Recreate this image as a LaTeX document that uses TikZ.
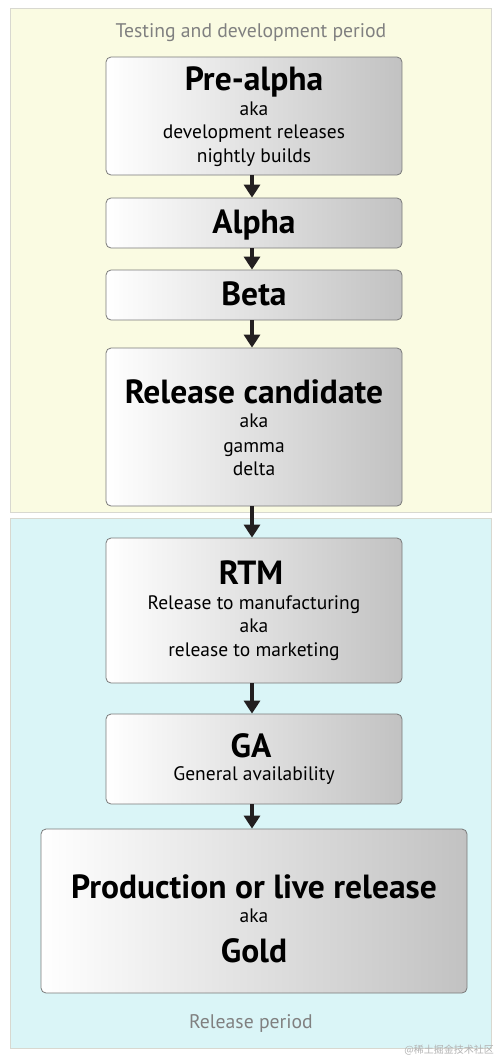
\documentclass[tikz,border=0pt]{standalone}
\usepackage{fontspec}
\setmainfont{PT Sans}
\newfontfamily\cjkfont{Noto Sans CJK SC}
\usetikzlibrary{arrows.meta}
\definecolor{panelY}{HTML}{FAFBE2}
\definecolor{panelC}{HTML}{DAF5F7}
\definecolor{panelB}{HTML}{D8D8D0}
\definecolor{boxB}{HTML}{7A7A7A}
\definecolor{capG}{HTML}{808080}
\definecolor{arrowK}{HTML}{231F20}
\tikzset{
  panel/.style={draw=panelB, line width=0.8pt},
  stage/.style={draw=boxB, line width=0.8pt, rounded corners=5pt, left color=white, middle color=black!7, right color=black!24, inner sep=0pt},
  heading/.style={anchor=base, font=\bfseries\fontsize{33.5}{33.5}\selectfont, inner sep=0pt},
  sub/.style={anchor=base, font=\fontsize{19.5}{19.5}\selectfont, inner sep=0pt},
  caption/.style={anchor=base, font=\fontsize{19.7}{19.7}\selectfont, text=capG, inner sep=0pt},
  flow/.style={arrowK, line width=4pt, -{Triangle[width=16pt,length=13pt]}, shorten >=0pt}
}
\begin{document}
\begin{tikzpicture}[x=1pt,y=-1pt]
\useasboundingbox (0,0) rectangle (500,1058);
\fill[white] (0,0) rectangle (500,1058);
% panels
\draw[panel, fill=panelY] (10,8) rectangle (491,512);
\draw[panel, fill=panelC] (10,518) rectangle (491,1048);
\node[caption] (captop) at (251,37) {Testing and development period};
\node[caption] (capbot) at (251,1028) {Release period};
% boxes
\node[stage, minimum width=296pt, minimum height=118pt] (pre) at (254,116) {};
\node[stage, minimum width=296pt, minimum height=50pt] (alpha) at (254,223) {};
\node[stage, minimum width=296pt, minimum height=50pt] (beta) at (254,295) {};
\node[stage, minimum width=296pt, minimum height=158pt] (rc) at (254,427) {};
\node[stage, minimum width=296pt, minimum height=145pt] (rtm) at (254,610.5) {};
\node[stage, minimum width=296pt, minimum height=90pt] (ga) at (254,759) {};
\node[stage, minimum width=426pt, minimum height=164pt] (prod) at (254,911) {};
% texts
\node[heading] (t1) at (254,90) {Pre-alpha};
\node[sub] (t1a) at (254,115) {aka};
\node[sub] (t1b) at (254,138) {development releases};
\node[sub] (t1c) at (254,162) {nightly builds};
\node[heading] (t2) at (254,233) {Alpha};
\node[heading] (t3) at (254,305) {Beta};
\node[heading] (t4) at (254,403) {Release candidate};
\node[sub] (t4a) at (254,427) {aka};
\node[sub] (t4b) at (254,452) {gamma};
\node[sub] (t4c) at (254,475) {delta};
\node[heading] (t5) at (251,584) {RTM};
\node[sub] (t5a) at (254,609) {Release to manufacturing};
\node[sub] (t5b) at (254,632) {aka};
\node[sub] (t5c) at (254,656) {release to marketing};
\node[heading] (t6) at (251,757) {GA};
\node[sub] (t6a) at (254,780) {General availability};
\node[heading] (t7) at (254,898) {Production or live release};
\node[sub] (t7a) at (254,922) {aka};
\node[heading] (t7b) at (254,962) {Gold};
% arrows
\draw[flow] ([xshift=-2pt]pre.south) -- ([xshift=-2pt]alpha.north);
\draw[flow] ([xshift=-2pt]alpha.south) -- ([xshift=-2pt]beta.north);
\draw[flow] ([xshift=-2pt]beta.south) -- ([xshift=-2pt]rc.north);
\draw[flow] ([xshift=-2pt]rc.south) -- ([xshift=-2pt]rtm.north);
\draw[flow] ([xshift=-2pt]rtm.south) -- ([xshift=-2pt]ga.north);
\draw[flow] ([xshift=-2pt]ga.south) -- ([xshift=-2pt]prod.north);
% watermark
\node[anchor=base east, font=\cjkfont\fontsize{10}{10}\selectfont, text=black!30, inner sep=0pt] (wm) at (494,1053) {@稀土掘金技术社区};
\end{tikzpicture}
\end{document}
